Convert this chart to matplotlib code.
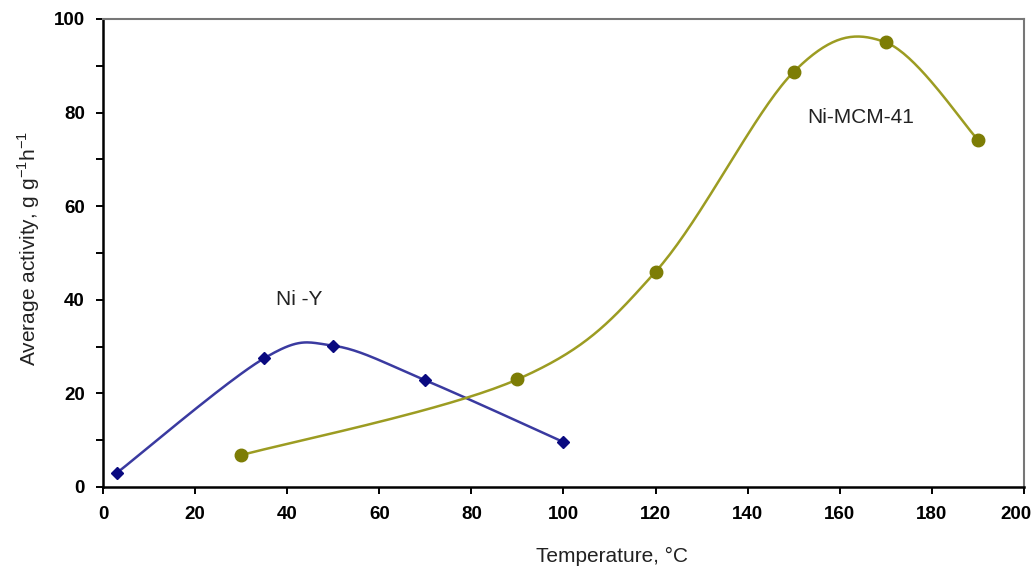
import numpy as np
import matplotlib
matplotlib.use("Agg")
import matplotlib.pyplot as plt
import matplotlib.transforms as mtransforms

plt.rcParams['font.family'] = ['Liberation Sans', 'DejaVu Sans']

niy_x = [3, 35, 50, 70, 100]
niy_y = [3.0, 27.5, 30.2, 22.8, 9.6]
mcm_x = [30, 90, 120, 150, 170, 190]
mcm_y = [6.8, 23.0, 46.0, 88.7, 95.0, 74.2]
xticks = [0, 20, 40, 60, 80, 100, 120, 140, 160, 180, 200]
yticks = [0, 20, 40, 60, 80, 100]


def smooth(xs, ys, n=40):
    pts = np.column_stack([xs, ys]).astype(float)
    m = len(pts)
    out = []
    for i in range(m - 1):
        p0 = pts[i - 1] if i > 0 else pts[i]
        p1 = pts[i]
        p2 = pts[i + 1]
        p3 = pts[i + 2] if i + 2 < m else pts[i + 1]
        c1 = p1 + (p2 - p0) / 6.0
        c2 = p2 - (p3 - p1) / 6.0
        t = np.linspace(0, 1, n)[:, None]
        seg = ((1 - t) ** 3) * p1 + 3 * ((1 - t) ** 2) * t * c1 + 3 * (1 - t) * t ** 2 * c2 + t ** 3 * p2
        out.append(seg if i == 0 else seg[1:])
    out = np.vstack(out)
    return out[:, 0], out[:, 1]


fig = plt.figure(figsize=(10.34, 5.67), dpi=100)
ax = fig.add_axes([0.0996, 0.1411, 0.8907, 0.8254])

sx, sy = smooth(niy_x, niy_y)
ax.plot(sx, sy, color='#3a3aa0', lw=1.8, zorder=2)
ax.plot(niy_x, niy_y, linestyle='none', marker='D', ms=6.5, color='#0a0a80', zorder=3)

sx, sy = smooth(mcm_x, mcm_y)
ax.plot(sx, sy, color='#9c9c22', lw=1.8, zorder=2)
ax.plot(mcm_x, mcm_y, linestyle='none', marker='o', ms=9, color='#7d7d05', zorder=3)

ax.text(42.5, 40, 'Ni -Y', fontsize=15, ha='center', va='center', color='#222222')
ax.text(164.5, 79, 'Ni-MCM-41', fontsize=15, ha='center', va='center', color='#222222')

ax.set_xlim(0, 200)
ax.set_ylim(0, 100)
ax.set_xticks(xticks)
ax.set_xticklabels([str(v) for v in xticks], fontsize=13.5, fontweight='bold')
ax.set_yticks(np.arange(0, 101, 10))
ax.set_yticklabels([str(v) if v in yticks else '' for v in np.arange(0, 101, 10)],
                   fontsize=13.5, fontweight='bold')
ax.tick_params(axis='x', direction='out', length=5, width=1.4, colors='black', pad=9)
ax.tick_params(axis='y', direction='out', length=5, width=1.4, colors='black', pad=8)

last = ax.get_xticklabels()[-1]
last.set_transform(last.get_transform() +
                   mtransforms.ScaledTranslation(-0.08, 0, fig.dpi_scale_trans))

for s in ['left', 'bottom']:
    ax.spines[s].set_color('black')
    ax.spines[s].set_linewidth(1.8)
for s in ['top', 'right']:
    ax.spines[s].set_color('#777777')
    ax.spines[s].set_linewidth(1.5)

ax.set_xlabel('Temperature, °C', fontsize=15, color='#222222')
ax.xaxis.set_label_coords(0.553, -0.128)
ax.set_ylabel('Average activity, g g$^{\\mathregular{-1}}$h$^{\\mathregular{-1}}$', fontsize=15,
              color='#222222')
ax.yaxis.set_label_coords(-0.066, 0.51)

fig.savefig('out.png', dpi=100)
